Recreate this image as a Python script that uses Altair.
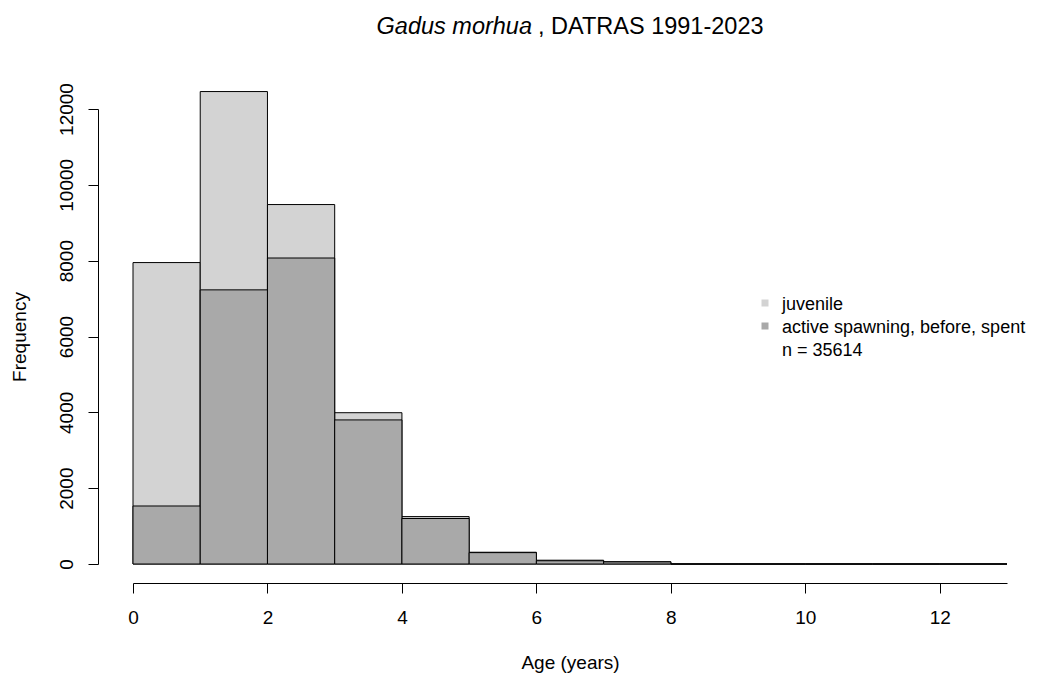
import altair as alt
import pandas as pd

# ---- data ----
age_left = [0, 1, 2, 3, 4, 5, 6, 7, 8, 9, 10, 11, 12]
total_counts = [7950, 12460, 9480, 3990, 1250, 310, 100, 60, 0, 0, 0, 0, 0]
mature_counts = [1530, 7230, 8070, 3800, 1200, 300, 85, 55, 0, 0, 0, 0, 0]
x_ticks = [0, 2, 4, 6, 8, 10, 12]
y_ticks = [0, 2000, 4000, 6000, 8000, 10000, 12000]
legend_labels = ["juvenile", "active spawning, before, spent"]
legend_colors = ["#d3d3d3", "#a9a9a9"]
n_label = "n = 35614"
title_species = "Gadus morhua"
title_rest = ", DATRAS 1991-2023"

FONT = "Liberation Sans"

df = pd.DataFrame({
    "left": age_left,
    "right": [a + 1 for a in age_left],
    "total": total_counts,
    "mature": mature_counts,
    "zero": [0] * len(age_left),
})

xs = alt.Scale(domain=[0, 13], nice=False, zero=False)
ys = alt.Scale(domain=[0, 12000], nice=False)

xaxis = alt.Axis(values=x_ticks, title="Age (years)", offset=19, tickSize=10,
                 tickColor="black", domainColor="black", labelColor="black",
                 titleColor="black", labelFont=FONT, titleFont=FONT,
                 labelFontSize=19, titleFontSize=19, titleFontWeight="normal",
                 labelPadding=15, titlePadding=26, grid=False, labelFlush=False,
                 format="d")
yaxis = alt.Axis(values=y_ticks, title="Frequency", offset=35, tickSize=10,
                 tickColor="black", domainColor="black", labelColor="black",
                 titleColor="black", labelFont=FONT, titleFont=FONT,
                 labelFontSize=19, titleFontSize=19, titleFontWeight="normal",
                 labelAngle=-90, labelAlign="center", labelBaseline="bottom",
                 labelPadding=12, titlePadding=28, grid=False, labelFlush=False,
                 format="d")

base = alt.Chart(df)
light = base.mark_rect(color=legend_colors[0], stroke="black", strokeWidth=1).encode(
    x=alt.X("left:Q", scale=xs, axis=xaxis),
    x2="right:Q",
    y=alt.Y("total:Q", scale=ys, axis=yaxis),
    y2="zero:Q",
)
dark = base.mark_rect(color=legend_colors[1], stroke="black", strokeWidth=1).encode(
    x=alt.X("left:Q", scale=xs),
    x2="right:Q",
    y=alt.Y("mature:Q", scale=ys),
    y2="zero:Q",
)

layers = [light, dark]

# title (mixed italic / normal)
t1 = alt.Chart(pd.DataFrame({"t": [title_species]})).mark_text(
    font=FONT, fontSize=23.5, fontStyle="italic", align="right", baseline="middle", color="black"
).encode(text="t:N", x=alt.value(399), y=alt.value(-82))
t2 = alt.Chart(pd.DataFrame({"t": [title_rest]})).mark_text(
    font=FONT, fontSize=23.5, align="left", baseline="middle", color="black"
).encode(text="t:N", x=alt.value(405), y=alt.value(-82))
layers += [t1, t2]

# legend
leg_y = [196, 219]
for lab, col, yy in zip(legend_labels, legend_colors, leg_y):
    sq = alt.Chart(pd.DataFrame({"t": [lab]})).mark_square(
        color=col, size=49, opacity=1, filled=True
    ).encode(x=alt.value(632), y=alt.value(yy - 2))
    tx = alt.Chart(pd.DataFrame({"t": [lab]})).mark_text(
        font=FONT, fontSize=18, align="left", baseline="middle", color="black"
    ).encode(text="t:N", x=alt.value(649), y=alt.value(yy))
    layers += [sq, tx]
ntx = alt.Chart(pd.DataFrame({"t": [n_label]})).mark_text(
    font=FONT, fontSize=18, align="left", baseline="middle", color="black"
).encode(text="t:N", x=alt.value(649), y=alt.value(242))
layers.append(ntx)

chart = alt.layer(*layers).properties(
    width=874, height=455,
    autosize=alt.AutoSizeParams(type="none"),
    padding={"left": 133, "top": 109, "right": 30, "bottom": 111},
    background="white",
).configure_view(stroke=None)

chart.save("out.html", embed_options={"renderer": "svg", "actions": False})
